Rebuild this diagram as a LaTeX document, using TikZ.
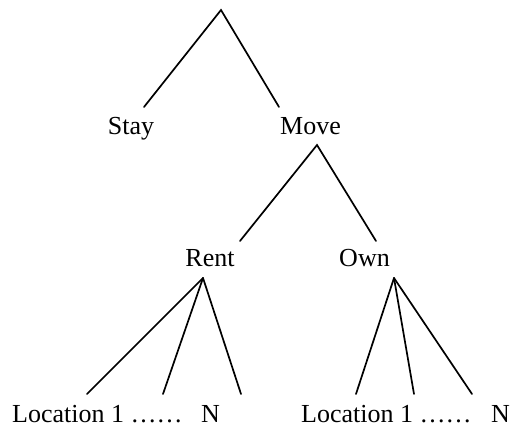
\documentclass[tikz,border=0pt]{standalone}
\usepackage{fontspec}
\setmainfont{Liberation Serif}
\tikzset{
  lbl/.style={inner sep=0pt, anchor=base, font=\fontsize{26}{30}\selectfont},
  branch/.style={line width=1.7pt, line cap=round}
}
\begin{document}
\begin{tikzpicture}[x=1pt,y=-1pt]
\useasboundingbox (0,0) rectangle (511,430);
% labels
\node[lbl] (stay) at (131,135) {Stay};
\node[lbl] (move) at (310.5,135) {Move};
\node[lbl] (rent) at (210,267) {Rent};
\node[lbl] (own) at (364.5,267) {Own};
\node[lbl, anchor=base west] (locA) at (12,422) {Location 1 ……};
\node[lbl, anchor=base east] (nA) at (220,422) {N};
\node[lbl, anchor=base west] (locB) at (301,422) {Location 1 ……};
\node[lbl, anchor=base east] (nB) at (510,422) {N};
% branch points
\coordinate (root) at (221,10);
\coordinate (stayT) at (144,107);
\coordinate (moveT) at (279,107);
\coordinate (moveB) at (317,145);
\coordinate (rentT) at (240,241);
\coordinate (ownT) at (376,241);
\coordinate (rentB) at (203,278);
\coordinate (ownB) at (394,278);
\coordinate (ra) at (87,394);
\coordinate (rb) at (163,394);
\coordinate (rc) at (241,394);
\coordinate (oa) at (356,394);
\coordinate (ob) at (414,394);
\coordinate (oc) at (472,394);
% connectors
\draw[branch] (stayT) -- (root) -- (moveT);
\draw[branch] (rentT) -- (moveB) -- (ownT);
\draw[branch] (rentB) -- (ra);
\draw[branch] (rentB) -- (rb);
\draw[branch] (rentB) -- (rc);
\draw[branch] (ownB) -- (oa);
\draw[branch] (ownB) -- (ob);
\draw[branch] (ownB) -- (oc);
\end{tikzpicture}
\end{document}
